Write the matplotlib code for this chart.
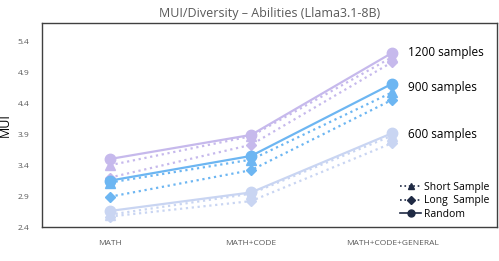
import numpy as np
import matplotlib.pyplot as plt
from matplotlib.lines import Line2D

categories = ["MATH", "MATH+CODE", "MATH+CODE+GENERAL"]

# MUI values per sample budget and selection strategy
random_1200 = [3.50, 3.89, 5.22]
short_1200 = [3.40, 3.87, 5.15]
long_1200 = [3.20, 3.73, 5.07]

random_900 = [3.15, 3.55, 4.72]
short_900 = [3.12, 3.49, 4.58]
long_900 = [2.89, 3.32, 4.46]

random_600 = [2.66, 2.96, 3.92]
short_600 = [2.60, 2.94, 3.88]
long_600 = [2.57, 2.82, 3.76]

yticks = [2.4, 2.9, 3.4, 3.9, 4.4, 4.9, 5.4]

plt.rcParams['font.family'] = ['Open Sans', 'DejaVu Sans']

fig = plt.figure(figsize=(4.99, 2.61), dpi=100)
ax = fig.add_axes([0.084, 0.130, 0.912, 0.782])

x = np.arange(len(categories))

groups = [
    ("#c6b9ec", random_1200, short_1200, long_1200),
    ("#6db6f2", random_900, short_900, long_900),
    ("#c9d5f2", random_600, short_600, long_600),
]

for color, r, s, l in groups:
    ax.plot(x, l, linestyle=':', color=color, linewidth=1.6,
            marker='D', markersize=5.5, zorder=2)
    ax.plot(x, s, linestyle=':', color=color, linewidth=1.6,
            marker='^', markersize=6.5, zorder=3)
    ax.plot(x, r, linestyle='-', color=color, linewidth=1.6,
            marker='o', markersize=7.5, zorder=4)

ax.text(2.11, 5.23, "1200 samples", fontsize=8.5, va='center')
ax.text(2.11, 4.66, "900 samples", fontsize=8.5, va='center')
ax.text(2.11, 3.90, "600 samples", fontsize=8.5, va='center')

ax.set_xlim(-0.48, 2.74)
ax.set_ylim(2.4, 5.7)
ax.set_xticks(x)
ax.set_xticklabels(categories, fontsize=6, color="#595959")
ax.set_yticks(yticks)
ax.set_yticklabels([f"{v:.1f}" for v in yticks], fontsize=6, color="#595959")
ax.tick_params(length=0, pad=9)
ax.set_ylabel("MUI", fontsize=9, labelpad=4)

for sp in ax.spines.values():
    sp.set_color("#404040")
    sp.set_linewidth(1.0)

ax.set_title("MUI/Diversity \u2013 Abilities (Llama3.1-8B)", fontsize=9,
             color="#595959", pad=4)

handles = [
    Line2D([], [], color="#1f2a44", linestyle=':', marker='^', markersize=5, linewidth=1.2),
    Line2D([], [], color="#1f2a44", linestyle=':', marker='D', markersize=4, linewidth=1.2),
    Line2D([], [], color="#1f2a44", linestyle='-', marker='o', markersize=5, linewidth=1.2),
]
ax.legend(handles, ["Short Sample", "Long  Sample", "Random"], loc='lower right',
          frameon=False, fontsize=7.5, handlelength=2.0, handletextpad=0.3,
          labelspacing=0.25, borderaxespad=0.3)

fig.savefig("out.png", dpi=100)
